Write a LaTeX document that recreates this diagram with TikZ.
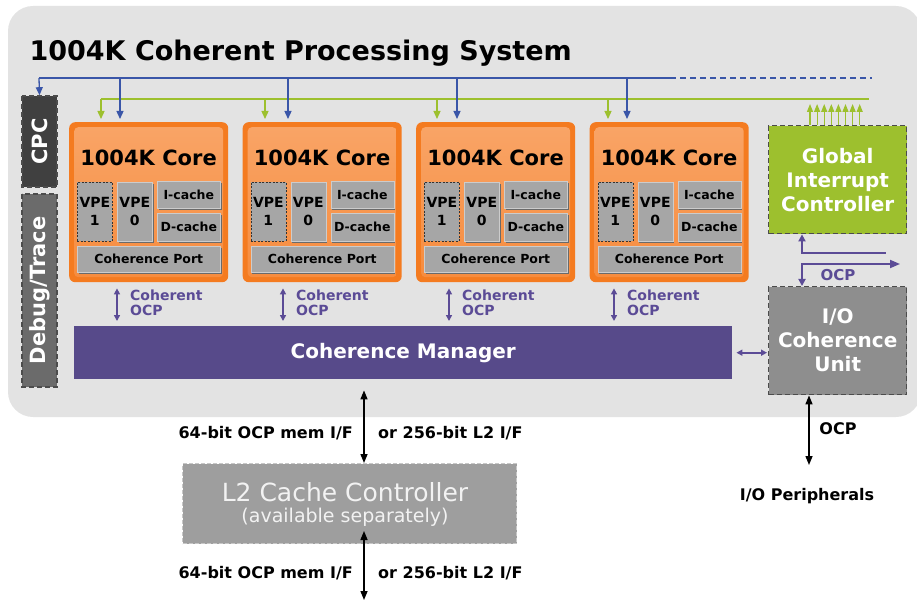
\documentclass[tikz,border=0pt]{standalone}
\usepackage{fontspec}
\setmainfont{DejaVu Sans}
\usetikzlibrary{positioning,arrows.meta,shadows}
\definecolor{bggray}{HTML}{E3E3E3}
\definecolor{coreorange}{HTML}{F47B20}
\definecolor{coretop}{HTML}{F9A466}
\definecolor{corebot}{HTML}{F68C3E}
\definecolor{subgray}{HTML}{A6A6A6}
\definecolor{subdark}{HTML}{6A6A6A}
\definecolor{cmpurple}{HTML}{574A8A}
\definecolor{ocppurple}{HTML}{5B4B96}
\definecolor{busblue}{HTML}{3A56A8}
\definecolor{busgreen}{HTML}{9DC02E}
\definecolor{iogray}{HTML}{8E8E8E}
\definecolor{ltgray}{HTML}{9E9E9E}
\tikzset{
  title/.style={font=\fontsize{27}{32}\selectfont\bfseries},
  core/.style={fill=coreorange, rounded corners=6pt, minimum width=159, minimum height=160, anchor=north west, inner sep=0pt},
  coreinner/.style={top color=coretop, bottom color=corebot, rounded corners=4pt, minimum width=149, minimum height=150, anchor=north west, inner sep=0pt},
  coretitle/.style={font=\fontsize{21}{25}\selectfont\bfseries},
  subbox/.style={fill=subgray, draw=black!20, line width=0.6pt, anchor=north west, inner sep=0pt, align=center,
    font=\fontsize{12.5}{17}\selectfont\bfseries, drop shadow={shadow xshift=1.5pt, shadow yshift=-1.5pt, fill=subdark, opacity=1}},
  vpeone/.style={fill=subgray, draw=black!80, dash pattern=on 2pt off 1.5pt, line width=0.7pt, anchor=north west, inner sep=0pt,
    align=center, font=\fontsize{14}{18}\selectfont\bfseries},
  vpezero/.style={subbox, font=\fontsize{14}{18}\selectfont\bfseries},
  sidebox/.style={draw=black!70, dash pattern=on 5pt off 3pt, line width=1.6pt, rotate=90, text=white, inner sep=0pt,
    font=\fontsize{21}{25}\selectfont\bfseries},
  bigbox/.style={draw=black!70, dash pattern=on 5pt off 3pt, line width=1.4pt, text=white, align=center, inner sep=0pt,
    font=\fontsize{20}{24}\selectfont\bfseries},
  busarrow/.style={-{Triangle[width=7pt,length=8pt]}},
  bluebus/.style={busblue, line width=1.3pt},
  greenbus/.style={busgreen, line width=1.3pt},
  ocparrow/.style={ocppurple, line width=1.8pt, {Triangle[width=6pt,length=6pt]}-{Triangle[width=6pt,length=6pt]}},
  ocplabel/.style={text=ocppurple, align=left, anchor=west, inner sep=0pt, font=\fontsize{14}{15}\selectfont\bfseries},
  memarrow/.style={black, line width=1.4pt, {Triangle[width=7pt,length=9pt]}-{Triangle[width=7pt,length=9pt]}},
  memlabel/.style={inner sep=0pt, font=\fontsize{16}{19}\selectfont\bfseries}
}
\begin{document}
\begin{tikzpicture}[x=1pt,y=-1pt]
\useasboundingbox (0,0) rectangle (917,601);
\fill[bggray, rounded corners=25pt] (8,6) rectangle (921,417);

\node[title, anchor=base west] (SYS) at (26,61) {1004K Coherent Processing System};

% side blocks
\node[sidebox, fill=black!75, minimum width=91, minimum height=35] (CPC) at (39.5,141.5) {CPC};
\node[sidebox, fill=black!58, minimum width=193, minimum height=35] (DBG) at (39.5,290.5) {Debug/Trace};

% cores
\foreach \i/\ox/\g/\b/\a in {1/69/101/120/117, 2/242.5/265/288/283, 3/416/437/457/449, 4/589.5/608/627/614} {
  \node[core] (C\i) at (\ox,122) {};
  \node[coreinner] at (\ox+5,127) {};
  \node[coretitle] (T\i) at (\ox+79.5,158) {1004K Core};
  \node[vpeone, minimum width=35, minimum height=59] (VA\i) at (\ox+8,182) {VPE\\1};
  \node[vpezero, minimum width=35, minimum height=59] (VB\i) at (\ox+48,182) {VPE\\0};
  \node[subbox, minimum width=63, minimum height=27] (IC\i) at (\ox+88,181) {I-cache};
  \node[subbox, minimum width=63, minimum height=28] (DC\i) at (\ox+88,213) {D-cache};
  \node[subbox, minimum width=143, minimum height=26] (CP\i) at (\ox+8,246) {Coherence Port};
  \coordinate (G\i) at (\g,99);
  \coordinate (B\i) at (\b,78);
  \coordinate (A\i) at (\a,303);
}

% coherence manager
\node[fill=cmpurple, text=white, minimum width=658, minimum height=53, anchor=north west, inner sep=0pt,
  font=\fontsize{20}{24}\selectfont\bfseries] (CM) at (74,326) {Coherence Manager};

\foreach \i in {1,...,4} {
  \draw[ocparrow, shorten <=6pt, shorten >=5pt] (C\i.south -| A\i) -- (CM.north -| A\i);
  \node[ocplabel] at ([xshift=13pt]A\i) {Coherent\\OCP};
}

% global interrupt controller and IOCU
\node[bigbox, fill=busgreen, minimum width=138, minimum height=108, anchor=north west] (GIC) at (768,125) {Global\\Interrupt\\Controller};
\node[bigbox, fill=iogray, minimum width=138, minimum height=108, anchor=north west] (IOCU) at (768,286) {I/O\\Coherence\\Unit};

% buses
\coordinate (BUS) at (39,78);
\coordinate (BUSD) at (670,78);
\coordinate (BUSE) at (872,78);
\coordinate (GRN) at (101,99);
\coordinate (GRNE) at (869,99);
\draw[bluebus] (BUS) -- (BUSD);
\draw[bluebus, dash pattern=on 6pt off 4pt] (BUSD) -- (BUSE);
\draw[bluebus, busarrow] (BUS) -- (CPC.east);
\draw[greenbus] (GRN) -- (GRNE);
\foreach \i in {1,...,4} {
  \draw[bluebus, busarrow, shorten >=3pt] (B\i) -- (C\i.north -| B\i);
  \draw[greenbus, busarrow, shorten >=3pt] (G\i) -- (C\i.north -| G\i);
}
\foreach \k in {0,...,7}
  \draw[greenbus, line width=1.2pt, -{Triangle[width=6pt,length=8pt]}] (GIC.north -| {810+7.1*\k},0) -- ++(0,-21);

% OCP between GIC and IOCU
\coordinate (OX) at (802,258);
\coordinate (OE1) at (886,253);
\coordinate (OE2) at (900,264);
\draw[ocppurple, line width=1.8pt, {Triangle[width=7pt,length=7pt]}-] (GIC.south -| OX) |- (OE1);
\draw[ocppurple, line width=1.8pt, {Triangle[width=7pt,length=7pt]}-{Triangle[width=8pt,length=10pt]}] (IOCU.north -| OX) |- (OE2);
\node[text=ocppurple, font=\fontsize{15}{17}\selectfont\bfseries] (OCPA) at (838,275) {OCP};

\draw[ocparrow, shorten <=4pt, shorten >=1pt] (CM.east) -- (IOCU.west |- CM.east);

% peripherals
\node[memlabel] (PER) at (807,496) {I/O Peripherals};
\coordinate (PX) at (809,465);
\draw[memarrow] (IOCU.south -| PX) -- (PX);
\node[memlabel] (OCPB) at (838,429) {OCP};

% L2 cache
\node[fill=ltgray, draw=black!22, dash pattern=on 4pt off 2pt, line width=1pt, minimum width=334, minimum height=80,
  anchor=north west, inner sep=0pt] (L2) at (182,463) {};
\node[text=white!95!black, font=\fontsize{25}{28}\selectfont] (L2A) at (345,492) {L2 Cache Controller};
\node[text=white!95!black, font=\fontsize{19}{22}\selectfont] (L2B) at (345,517) {(available separately)};
\coordinate (MEM) at (364,600);
\draw[memarrow, shorten <=11pt] (CM.south -| MEM) -- (L2.north -| MEM);
\draw[memarrow, shorten <=-13pt] (L2.south -| MEM) -- (MEM);
\node[memlabel, anchor=base east] (M1) at (353,438) {64-bit OCP mem I/F};
\node[memlabel, anchor=base west] (M2) at (378,438) {or 256-bit L2 I/F};
\node[memlabel, anchor=base east] (M3) at (353,578) {64-bit OCP mem I/F};
\node[memlabel, anchor=base west] (M4) at (378,578) {or 256-bit L2 I/F};
\end{tikzpicture}
\end{document}
